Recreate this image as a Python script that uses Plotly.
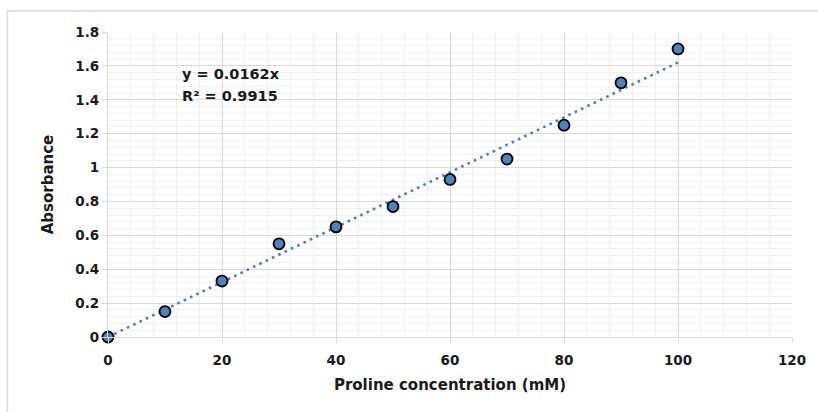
import plotly.graph_objects as go

conc = [0, 10, 20, 30, 40, 50, 60, 70, 80, 90, 100]
absorb = [0.0, 0.15, 0.33, 0.55, 0.65, 0.77, 0.93, 1.05, 1.25, 1.50, 1.70]
slope = 0.0162
r2 = 0.9915
trend_x = [0, 100]
trend_y = [slope * v for v in trend_x]
x_ticks = [0, 20, 40, 60, 80, 100, 120]
y_ticks = [0, 0.2, 0.4, 0.6, 0.8, 1.0, 1.2, 1.4, 1.6, 1.8]
y_labels = ["0", "0.2", "0.4", "0.6", "0.8", "1", "1.2", "1.4", "1.6", "1.8"]
eq_lines = [f"y = {slope}x", f"R² = {r2}"]

FONT = "'DejaVu Sans', sans-serif"
TXT = "#1a1a1a"

fig = go.Figure()
fig.add_trace(go.Scatter(
    x=trend_x, y=trend_y, mode="lines",
    line=dict(color="#4a7ebb", width=2.6, dash="2.6px,4.4px"),
    hoverinfo="skip", showlegend=False))
fig.add_trace(go.Scatter(
    x=conc, y=absorb, mode="markers",
    marker=dict(size=11, color="#4f81bd", line=dict(color="black", width=1.8)),
    showlegend=False, cliponaxis=False))

grid_major = "#d9d9d9"
grid_minor = "#efefef"

fig.update_xaxes(
    range=[0, 120], tickvals=x_ticks, ticktext=[f"<b>{v}</b>" for v in x_ticks],
    showgrid=True, gridcolor=grid_major, gridwidth=1.2,
    minor=dict(dtick=4, showgrid=True, gridcolor=grid_minor, gridwidth=1),
    showline=True, linecolor=grid_major, linewidth=1.2,
    ticks="outside", ticklen=5, tickcolor=grid_major,
    ticklabelstandoff=6,
    zeroline=False,
    tickfont=dict(family=FONT, size=13.5, color=TXT),
    title=dict(text="<b>Proline concentration (mM)</b>", standoff=12,
               font=dict(family=FONT, size=15, color=TXT)),
)
fig.update_yaxes(
    range=[0, 1.8], tickvals=y_ticks, ticktext=[f"<b>{t}</b>" for t in y_labels],
    showgrid=True, gridcolor=grid_major, gridwidth=1.2,
    minor=dict(dtick=0.04, showgrid=True, gridcolor=grid_minor, gridwidth=1),
    showline=True, linecolor=grid_major, linewidth=1.2,
    ticks="outside", ticklen=5, tickcolor=grid_major,
    zeroline=False,
    tickfont=dict(family=FONT, size=13.5, color=TXT),
    title=dict(text="<b>Absorbance</b>", standoff=18,
               font=dict(family=FONT, size=15, color=TXT)),
)

for txt, yv in zip(eq_lines, [1.552, 1.422]):
    fig.add_annotation(
        x=12.6, y=yv, xref="x", yref="y", xanchor="left", yanchor="middle",
        text=f"<b>{txt}</b>", showarrow=False, align="left",
        font=dict(family=FONT, size=14.5, color=TXT))

fig.add_shape(type="rect", xref="paper", yref="paper",
              x0=-0.147, x1=1.2, y0=-0.4, y1=1.069,
              line=dict(color="#d9d9d9", width=1.5), layer="below")

fig.update_layout(
    width=818, height=412,
    margin=dict(l=108, r=24, t=32, b=75),
    paper_bgcolor="white", plot_bgcolor="white",
)

fig.write_html("out.html", config={"displayModeBar": False},
               post_script="document.body.style.margin='0';")
